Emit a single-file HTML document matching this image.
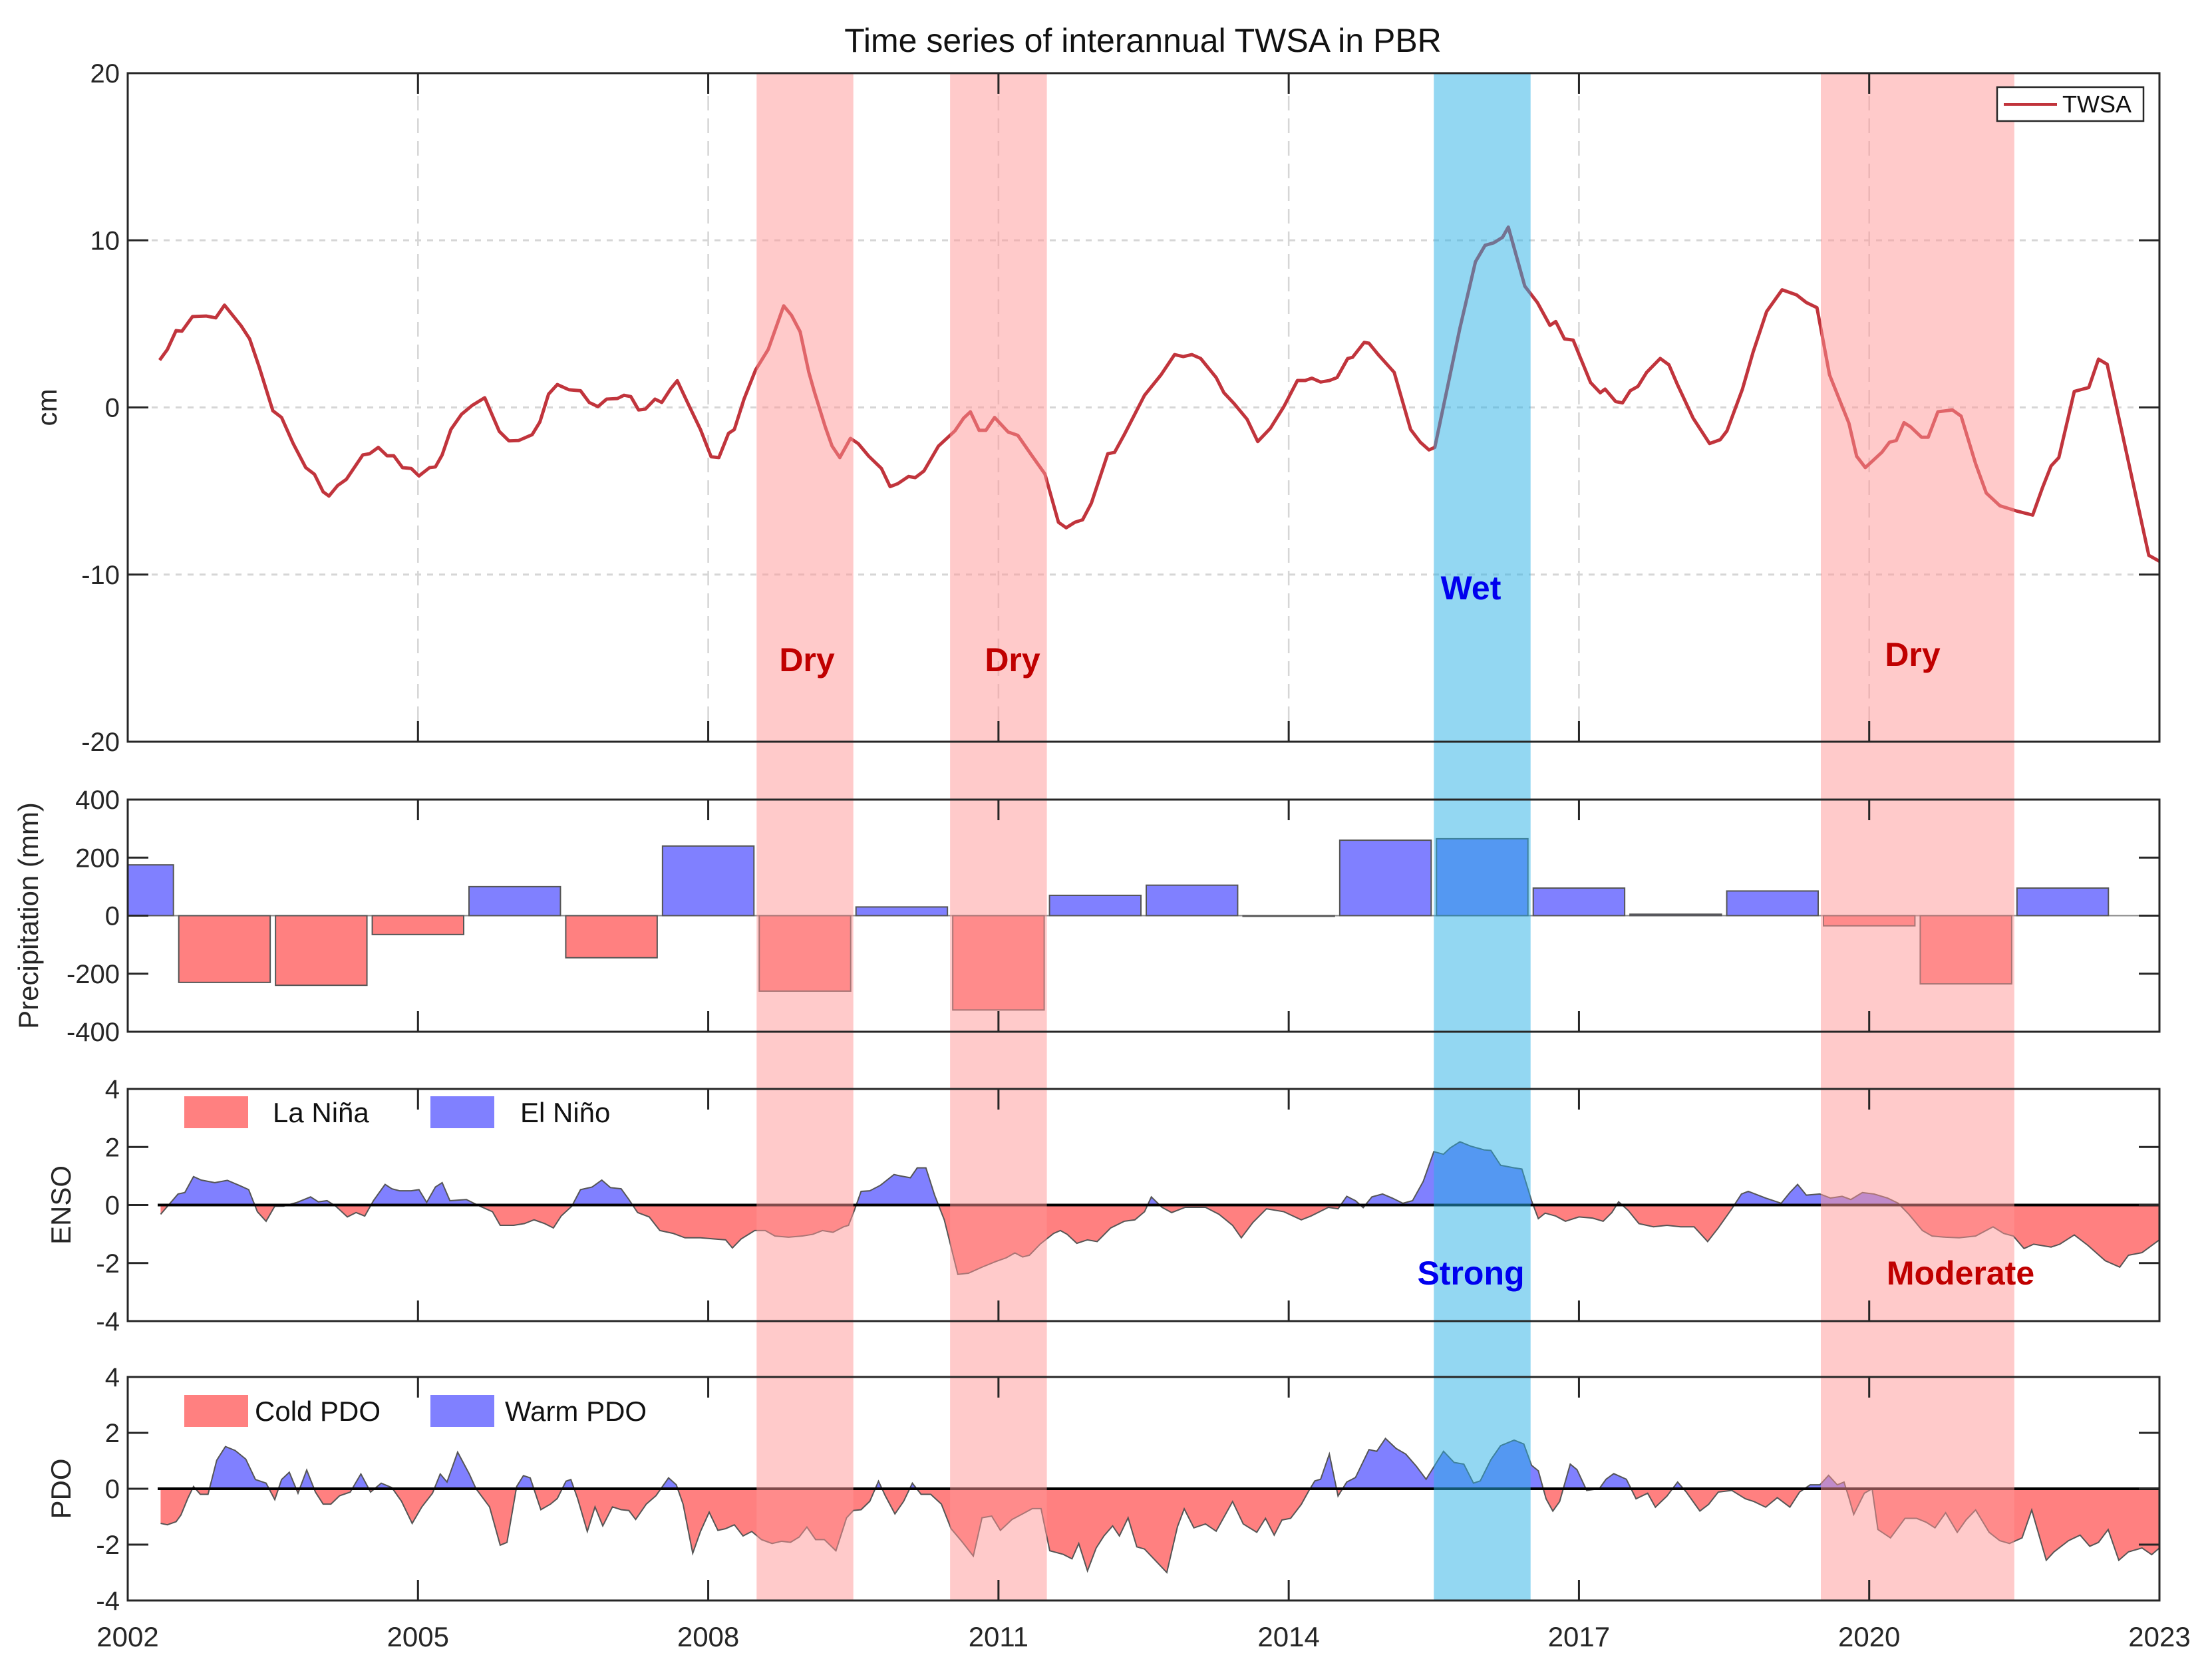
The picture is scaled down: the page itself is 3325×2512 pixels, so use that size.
<!DOCTYPE html>
<html><head><meta charset="utf-8"><style>
html,body{margin:0;padding:0;background:#fff;}
svg{display:block;font-family:"Liberation Sans",Arial,sans-serif;}
</style></head><body>
<svg id="chart" width="3325" height="2512" viewBox="0 0 3325 2512">
<defs>
<clipPath id="plotclip"><rect x="192" y="0" width="3054" height="2512"/></clipPath>
</defs>
<text x="1718" y="78" font-size="50" text-anchor="middle" fill="#111">Time series of interannual TWSA in PBR</text>
<g id="layer"></g>
</svg>
<script>
// ---------- DATA (time given as years since 2002) ----------
const twsaOffsets=[0.33,0.41,0.50,0.56,0.67,0.81,0.91,1.00,1.17,1.26,1.36,1.50,1.59,1.71,1.84,1.93,2.02,2.08,2.17,2.26,2.43,2.50,2.59,2.68,2.75,2.84,2.93,3.01,3.12,3.18,3.25,3.34,3.45,3.56,3.69,3.84,3.94,4.04,4.18,4.26,4.35,4.44,4.56,4.68,4.77,4.86,4.95,5.06,5.13,5.20,5.28,5.35,5.45,5.52,5.61,5.68,5.80,5.92,6.03,6.11,6.21,6.27,6.37,6.49,6.62,6.78,6.86,6.95,7.04,7.10,7.21,7.28,7.36,7.47,7.55,7.66,7.79,7.88,7.96,8.07,8.14,8.23,8.38,8.55,8.64,8.71,8.80,8.87,8.96,9.10,9.20,9.34,9.48,9.62,9.70,9.79,9.87,9.96,10.13,10.20,10.30,10.51,10.68,10.82,10.91,11.00,11.09,11.25,11.33,11.44,11.57,11.68,11.81,11.95,12.09,12.17,12.24,12.33,12.42,12.50,12.61,12.66,12.78,12.83,12.93,13.09,13.26,13.36,13.45,13.51,13.64,13.77,13.93,14.03,14.12,14.21,14.27,14.44,14.57,14.70,14.76,14.85,14.94,15.12,15.22,15.27,15.38,15.45,15.53,15.61,15.70,15.84,15.93,16.02,16.18,16.35,16.46,16.53,16.69,16.80,16.94,17.10,17.25,17.35,17.46,17.59,17.79,17.87,17.96,18.13,18.21,18.28,18.36,18.43,18.54,18.61,18.71,18.86,18.95,19.10,19.21,19.35,19.52,19.69,19.79,19.88,19.96,20.12,20.27,20.37,20.46,20.69,20.89,21.03];
const twsaValues=[2.83,3.47,4.6,4.56,5.44,5.47,5.36,6.12,4.9,4.1,2.4,-0.2,-0.6,-2.16,-3.6,-4.0,-5.05,-5.3,-4.67,-4.3,-2.84,-2.77,-2.39,-2.89,-2.89,-3.6,-3.65,-4.1,-3.6,-3.56,-2.84,-1.32,-0.41,0.12,0.58,-1.43,-2.0,-1.98,-1.63,-0.87,0.8,1.37,1.06,1.0,0.3,0.05,0.5,0.53,0.73,0.65,-0.15,-0.1,0.5,0.3,1.1,1.6,0.12,-1.32,-2.95,-3.0,-1.55,-1.32,0.5,2.25,3.47,6.08,5.52,4.53,2.1,0.88,-1.17,-2.31,-3.0,-1.85,-2.16,-2.92,-3.65,-4.74,-4.56,-4.13,-4.2,-3.8,-2.31,-1.4,-0.64,-0.26,-1.37,-1.37,-0.6,-1.47,-1.67,-2.84,-3.98,-6.87,-7.2,-6.87,-6.72,-5.73,-2.77,-2.69,-1.63,0.73,1.95,3.16,3.04,3.16,2.93,1.79,0.88,0.2,-0.71,-2.04,-1.25,0.05,1.61,1.61,1.75,1.52,1.61,1.79,2.93,3.0,3.89,3.84,3.13,2.1,-1.32,-2.08,-2.54,-2.39,1.18,4.76,8.71,9.7,9.85,10.18,10.79,7.26,6.28,4.91,5.14,4.1,4.03,1.49,0.88,1.1,0.35,0.27,1.0,1.26,2.1,2.93,2.55,1.34,-0.64,-2.16,-1.93,-1.4,1.1,3.31,5.74,7.04,6.73,6.28,5.97,1.95,-0.94,-2.92,-3.6,-2.69,-2.08,-1.98,-0.91,-1.17,-1.78,-1.78,-0.26,-0.15,-0.52,-3.37,-5.12,-5.88,-6.19,-6.44,-4.82,-3.5,-3.0,0.96,1.19,2.89,2.58,-3.53,-8.85,-9.3];

const precipYears=[2002,2003,2004,2005,2006,2007,2008,2009,2010,2011,2012,2013,2014,2015,2016,2017,2018,2019,2020,2021,2022];
const precipValues=[175,-230,-240,-65,100,-145,240,-260,30,-325,70,105,0,260,265,95,5,85,-35,-235,95];

const ensoYears=[2002.34,2002.52,2002.59,2002.68,2002.76,2002.9,2003.03,2003.15,2003.25,2003.34,2003.43,2003.52,2003.61,2003.75,2003.89,2003.97,2004.06,2004.15,2004.27,2004.36,2004.45,2004.54,2004.66,2004.73,2004.81,2004.93,2005.01,2005.09,2005.18,2005.25,2005.33,2005.5,2005.64,2005.77,2005.85,2005.99,2006.1,2006.2,2006.31,2006.4,2006.48,2006.59,2006.68,2006.8,2006.9,2006.99,2007.1,2007.18,2007.27,2007.39,2007.5,2007.64,2007.76,2007.92,2008.06,2008.18,2008.25,2008.34,2008.48,2008.59,2008.69,2008.83,2008.97,2009.08,2009.18,2009.29,2009.4,2009.45,2009.51,2009.58,2009.67,2009.78,2009.92,2009.99,2010.09,2010.16,2010.25,2010.34,2010.44,2010.58,2010.69,2010.83,2010.97,2011.08,2011.17,2011.25,2011.32,2011.43,2011.57,2011.64,2011.71,2011.81,2011.92,2012.02,2012.16,2012.3,2012.41,2012.51,2012.58,2012.69,2012.79,2012.93,2013.14,2013.28,2013.42,2013.51,2013.63,2013.77,2013.95,2014.13,2014.23,2014.41,2014.51,2014.6,2014.69,2014.77,2014.86,2014.97,2015.07,2015.18,2015.28,2015.39,2015.5,2015.6,2015.67,2015.77,2015.88,2016.02,2016.09,2016.19,2016.33,2016.41,2016.51,2016.58,2016.65,2016.76,2016.86,2017.0,2017.14,2017.25,2017.34,2017.41,2017.51,2017.62,2017.77,2017.91,2018.05,2018.19,2018.33,2018.44,2018.58,2018.68,2018.75,2018.93,2019.09,2019.18,2019.26,2019.35,2019.49,2019.6,2019.72,2019.81,2019.93,2020.05,2020.19,2020.3,2020.41,2020.55,2020.65,2020.79,2020.93,2021.1,2021.28,2021.39,2021.49,2021.6,2021.7,2021.88,2021.97,2022.12,2022.26,2022.44,2022.59,2022.68,2022.82,2023.0];
const ensoValues=[-0.32,0.38,0.43,0.98,0.86,0.77,0.85,0.68,0.53,-0.23,-0.56,-0.04,-0.04,0.09,0.28,0.11,0.15,-0.04,-0.41,-0.26,-0.38,0.15,0.71,0.56,0.49,0.49,0.53,0.09,0.62,0.77,0.15,0.19,-0.04,-0.23,-0.7,-0.7,-0.64,-0.51,-0.64,-0.79,-0.38,-0.04,0.53,0.62,0.86,0.6,0.56,0.19,-0.26,-0.41,-0.88,-0.98,-1.13,-1.13,-1.17,-1.2,-1.48,-1.17,-0.88,-0.88,-1.07,-1.11,-1.07,-1.01,-0.88,-0.94,-0.75,-0.7,-0.19,0.47,0.49,0.68,1.05,1.0,0.94,1.28,1.28,0.34,-0.51,-2.39,-2.35,-2.14,-1.95,-1.82,-1.65,-1.79,-1.73,-1.35,-0.98,-0.88,-1.01,-1.32,-1.2,-1.26,-0.79,-0.56,-0.51,-0.23,0.28,-0.08,-0.26,-0.08,-0.08,-0.32,-0.7,-1.13,-0.6,-0.13,-0.23,-0.51,-0.38,-0.08,-0.13,0.3,0.15,-0.09,0.28,0.38,0.24,0.06,0.15,0.81,1.84,1.75,1.97,2.18,2.03,1.9,1.88,1.37,1.28,1.24,0.15,-0.47,-0.28,-0.38,-0.56,-0.41,-0.45,-0.56,-0.26,0.11,-0.19,-0.64,-0.75,-0.7,-0.75,-0.75,-1.26,-0.79,-0.13,0.38,0.47,0.24,0.06,0.43,0.71,0.34,0.38,0.24,0.3,0.19,0.43,0.38,0.24,0.06,-0.32,-0.88,-1.07,-1.11,-1.13,-1.07,-0.75,-0.98,-1.07,-1.5,-1.35,-1.45,-1.35,-1.03,-1.39,-1.92,-2.14,-1.73,-1.64,-1.2];

const pdoOffsets=[0.34,0.41,0.5,0.55,0.62,0.68,0.75,0.83,0.92,1.01,1.11,1.22,1.32,1.43,1.52,1.59,1.67,1.76,1.85,1.94,2.02,2.1,2.19,2.3,2.41,2.51,2.62,2.73,2.83,2.94,3.04,3.15,3.23,3.3,3.41,3.53,3.6,3.74,3.85,3.92,4.02,4.09,4.16,4.27,4.37,4.44,4.53,4.58,4.65,4.75,4.83,4.91,5.01,5.1,5.18,5.25,5.36,5.46,5.59,5.67,5.74,5.84,5.92,6.01,6.1,6.18,6.27,6.36,6.45,6.55,6.66,6.76,6.85,6.94,7.02,7.11,7.2,7.32,7.43,7.5,7.58,7.67,7.76,7.83,7.93,8.02,8.11,8.2,8.3,8.41,8.51,8.62,8.74,8.83,8.93,9.02,9.14,9.25,9.35,9.44,9.53,9.67,9.76,9.83,9.92,10.01,10.09,10.18,10.25,10.34,10.43,10.51,10.62,10.74,10.85,10.92,11.02,11.14,11.25,11.42,11.53,11.67,11.76,11.85,11.93,12.02,12.13,12.21,12.27,12.33,12.42,12.51,12.6,12.69,12.83,12.91,13.0,13.11,13.21,13.32,13.42,13.6,13.71,13.81,13.91,13.98,14.09,14.19,14.33,14.43,14.51,14.58,14.66,14.73,14.8,14.91,14.98,15.08,15.21,15.28,15.36,15.49,15.59,15.71,15.79,15.91,16.02,16.11,16.25,16.34,16.44,16.58,16.72,16.81,16.93,17.05,17.18,17.28,17.39,17.49,17.58,17.67,17.74,17.79,17.84,17.95,18.03,18.09,18.22,18.37,18.49,18.59,18.68,18.79,18.91,19.0,19.1,19.24,19.35,19.45,19.58,19.68,19.83,19.91,20.06,20.18,20.28,20.37,20.47,20.58,20.68,20.82,20.92,21.0];
const pdoValues=[-1.24,-1.29,-1.18,-0.94,-0.35,0.08,-0.2,-0.2,1.02,1.51,1.37,1.06,0.33,0.2,-0.39,0.33,0.59,-0.16,0.67,-0.12,-0.55,-0.55,-0.25,-0.12,0.53,-0.12,0.2,0.04,-0.45,-1.24,-0.65,-0.16,0.53,0.24,1.31,0.53,0,-0.65,-2.02,-1.92,0.08,0.47,0.39,-0.75,-0.55,-0.35,0.27,0.33,-0.35,-1.53,-0.65,-1.33,-0.65,-0.75,-0.78,-1.1,-0.55,-0.25,0.39,0.14,-0.55,-2.31,-1.53,-0.84,-1.49,-1.43,-1.29,-1.69,-1.53,-1.82,-1.96,-1.88,-1.92,-1.73,-1.37,-1.82,-1.82,-2.22,-1.04,-0.78,-0.75,-0.45,0.27,-0.25,-0.9,-0.45,0.2,-0.2,-0.2,-0.55,-1.43,-1.88,-2.41,-1.04,-0.98,-1.49,-1.1,-0.9,-0.71,-0.71,-2.22,-2.35,-2.51,-1.96,-2.94,-2.12,-1.69,-1.33,-1.69,-1.04,-2.08,-2.16,-2.56,-3.0,-1.36,-0.72,-1.4,-1.26,-1.52,-0.46,-1.26,-1.56,-1.06,-1.66,-1.12,-1.06,-0.56,-0.06,0.28,0.34,1.24,-0.26,0.24,0.4,1.4,1.34,1.8,1.44,1.24,0.8,0.34,1.34,0.94,0.88,0.2,0.28,1.04,1.54,1.74,1.6,0.84,0.64,-0.36,-0.8,-0.46,0.88,0.68,-0.06,0,0.34,0.54,0.34,-0.36,-0.16,-0.66,-0.26,0.24,-0.12,-0.8,-0.56,-0.12,-0.06,-0.36,-0.46,-0.66,-0.32,-0.66,-0.12,0.14,0.14,0.48,0.14,0.24,-0.32,-0.92,-0.16,0,-1.46,-1.76,-1.06,-1.06,-1.2,-1.4,-0.86,-1.56,-1.12,-0.76,-1.56,-1.86,-1.96,-1.76,-0.76,-2.56,-2.26,-1.86,-1.66,-2.06,-1.92,-1.46,-2.56,-2.26,-2.12,-2.36,-2.12];

const xTicks=[2002,2005,2008,2011,2014,2017,2020,2023];
const bands=[{from:2008.5,to:2009.5,type:'dry'},{from:2010.5,to:2011.5,type:'dry'},{from:2015.5,to:2016.5,type:'wet'},{from:2019.5,to:2021.5,type:'dry'}];

// ---------- LAYOUT ----------
const NS='http://www.w3.org/2000/svg';
const X0=192,X1=3246,Y0YR=2002,Y1YR=2023;
const xs=y=>X0+(y-Y0YR)/(Y1YR-Y0YR)*(X1-X0);
const panels={
 twsa:{top:110,bottom:1115,min:-20,max:20,ticks:[20,10,0,-10,-20],label:'cm',lx:85},
 precip:{top:1202,bottom:1551,min:-400,max:400,ticks:[400,200,0,-200,-400],label:'Precipitation (mm)',lx:57},
 enso:{top:1637,bottom:1986,min:-4,max:4,ticks:[4,2,0,-2,-4],label:'ENSO',lx:106},
 pdo:{top:2070,bottom:2406,min:-4,max:4,ticks:[4,2,0,-2,-4],label:'PDO',lx:106}
};
function ys(p,v){return p.bottom-(v-p.min)/(p.max-p.min)*(p.bottom-p.top);}
const layer=document.getElementById('layer');
function el(tag,attrs,parent){const e=document.createElementNS(NS,tag);for(const k in attrs)e.setAttribute(k,attrs[k]);(parent||layer).appendChild(e);return e;}

// grid in twsa panel
{const p=panels.twsa;
 const g=el('g',{});
 
 
 p.ticks.forEach(t=>{if(t===p.max||t===p.min)return;el('line',{x1:X0,x2:X1,y1:ys(p,t),y2:ys(p,t),stroke:'#d6d6d6','stroke-width':3,'stroke-dasharray':'9 9'},g);});
 xTicks.forEach(t=>{if(t===Y0YR||t===Y1YR)return;el('line',{x1:xs(t),x2:xs(t),y1:p.top,y2:p.bottom,stroke:'#d6d6d6','stroke-width':2.5,'stroke-dasharray':'22 12'},g);});
}

// precip bars
{const p=panels.precip;const g=el('g',{'clip-path':'url(#plotclip)'});
 
 
 const z=ys(p,0);
 el('line',{x1:X0,x2:X1,y1:z,y2:z,stroke:'#888','stroke-width':2},g);
 precipYears.forEach((yr,i)=>{const v=precipValues[i];const xa=xs(yr-0.5)+4,xb=xs(yr+0.5)-4;const yv=ys(p,v);
  const r=el('rect',{x:xa,y:Math.min(yv,z),width:xb-xa,height:Math.max(Math.abs(yv-z),1),fill:v>=0?'#8080ff':'#ff8080',stroke:'#555','stroke-width':2},g);
  
  
 });
}

// area series (enso, pdo)
function areaSeries(p,years,vals,name){
 const n=Math.min(years.length,vals.length);const z=ys(p,0);
 const g=el('g',{});
 
 
 const pts=[];
 for(let i=0;i<n;i++){
  if(i>0){const a=vals[i-1],b=vals[i];if((a>0&&b<0)||(a<0&&b>0)){const t=a/(a-b);pts.push([years[i-1]+t*(years[i]-years[i-1]),0]);}}
  pts.push([years[i],vals[i]]);
 }
 let pos='M'+xs(pts[0][0])+','+z,neg=pos;
 pts.forEach(([yr,v])=>{pos+=' L'+xs(yr)+','+ys(p,Math.max(v,0));neg+=' L'+xs(yr)+','+ys(p,Math.min(v,0));});
 pos+=' L'+xs(pts[pts.length-1][0])+','+z+' Z';neg+=' L'+xs(pts[pts.length-1][0])+','+z+' Z';
 const pp=el('path',{d:pos,fill:'#8080ff'},g);
 
 
 const np=el('path',{d:neg,fill:'#ff8080'},g);
 
 
 const line=pts.map((q,i)=>(i?'L':'M')+xs(q[0])+','+ys(p,q[1])).join(' ');
 const lp=el('path',{d:line,fill:'none',stroke:'#555','stroke-width':2},g);
 
 
 const zl=el('line',{x1:X0+45,x2:X1,y1:z,y2:z,stroke:'#000','stroke-width':4},g);
 
 
}
areaSeries(panels.enso,ensoYears,ensoValues,'enso');
areaSeries(panels.pdo,pdoOffsets.map(o=>Y0YR+o),pdoValues,'pdo');

// twsa line
{const p=panels.twsa;const n=Math.min(twsaOffsets.length,twsaValues.length);
 let d='';for(let i=0;i<n;i++)d+=(i?' L':'M')+xs(Y0YR+twsaOffsets[i])+','+ys(p,twsaValues[i]);
 const l=el('path',{d:d,fill:'none',stroke:'#c1343c','stroke-width':5,'stroke-linejoin':'round','clip-path':'url(#plotclip)'});
 
 
}

// bands overlay
bands.forEach((b,i)=>{const r=el('rect',{x:xs(b.from),y:panels.twsa.top,width:xs(b.to)-xs(b.from),height:panels.pdo.bottom-panels.twsa.top,fill:b.type==='wet'?'#27b0e6':'#ff9595','fill-opacity':0.5});
 
 
});

// axes frames, ticks, labels
Object.keys(panels).forEach(k=>{const p=panels[k];
 const g=el('g',{});
 
 
 el('rect',{x:X0,y:p.top,width:X1-X0,height:p.bottom-p.top,fill:'none',stroke:'#262626','stroke-width':3},g);
 p.ticks.forEach(t=>{const y=ys(p,t);
  el('line',{x1:X0,x2:X0+31,y1:y,y2:y,stroke:'#262626','stroke-width':3},g);
  el('line',{x1:X1-31,x2:X1,y1:y,y2:y,stroke:'#262626','stroke-width':3},g);
  const tx=el('text',{x:X0-12,y:y+14,'font-size':40,'text-anchor':'end',fill:'#262626'},g);tx.textContent=String(t);
  
  
 });
 xTicks.forEach(t=>{const x=xs(t);
  el('line',{x1:x,x2:x,y1:p.top,y2:p.top+31,stroke:'#262626','stroke-width':3},g);
  el('line',{x1:x,x2:x,y1:p.bottom-31,y2:p.bottom,stroke:'#262626','stroke-width':3},g);
 });
 const cy=(p.top+p.bottom)/2;
 const lab=el('text',{x:p.lx,y:cy,'font-size':42,'text-anchor':'middle',fill:'#262626',transform:'rotate(-90 '+p.lx+' '+cy+')'},g);
 lab.textContent=p.label;
 
 
});
xTicks.forEach(t=>{const tx=el('text',{x:xs(t),y:2475,'font-size':42,'text-anchor':'middle',fill:'#262626'});tx.textContent=String(t);
 
 
});

// annotations
[['Dry',1213,992,'#c00000'],['Dry',1522,992,'#c00000'],['Wet',2211,884,'#0000ee'],['Dry',2875,984,'#c00000'],['Strong',2211,1914,'#0000ee'],['Moderate',2947,1914,'#c00000']].forEach(a=>{
 const t=el('text',{x:a[1],y:a[2]+17,'font-size':50,'font-weight':'bold','text-anchor':'middle',fill:a[3]});t.textContent=a[0];
 
 
});

// legends
{const g=el('g',{});
 
 
 el('rect',{x:3002,y:131,width:220,height:51,fill:'#fff',stroke:'#262626','stroke-width':2.5},g);
 el('line',{x1:3012,x2:3092,y1:157,y2:157,stroke:'#c1343c','stroke-width':4},g);
 const t=el('text',{x:3100,y:169,'font-size':36,fill:'#111'},g);t.textContent='TWSA';
}
function legendEntry(x,y,color,text,tx,name){const g=el('g',{});
 
 
 el('rect',{x:x,y:y,width:96,height:48,fill:color},g);
 const t=el('text',{x:tx,y:y+39,'font-size':42,fill:'#111'},g);t.textContent=text;}
legendEntry(277,1648,'#ff8080','La Niña',410,'legend-la-nina');
legendEntry(647,1648,'#8080ff','El Niño',782,'legend-el-nino');
legendEntry(277,2097,'#ff8080','Cold PDO',383,'legend-cold-pdo');
legendEntry(647,2097,'#8080ff','Warm PDO',759,'legend-warm-pdo');
</script>
</body></html>
